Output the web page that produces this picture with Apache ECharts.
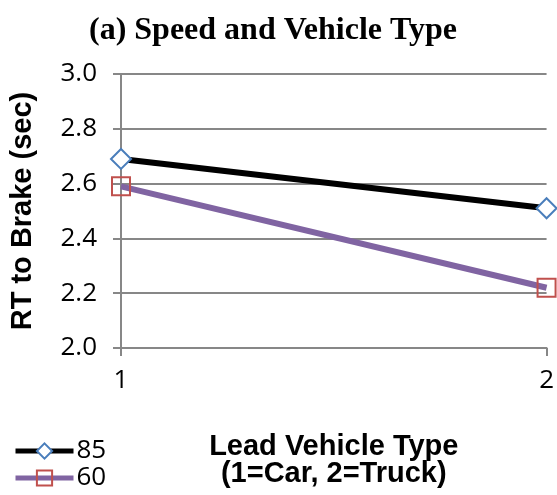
<!DOCTYPE html>
<html>
<head>
<meta charset="utf-8">
<script src="https://cdn.jsdelivr.net/npm/echarts@6/dist/echarts.min.js"></script>
<style>
  html, body { margin: 0; padding: 0; background: #fff; }
  #chart { width: 557px; height: 495px; }
</style>
</head>
<body>
<div id="chart"></div>
<script>
// Lead vehicle type categories (1 = Car, 2 = Truck)
const categories = ['1', '2'];
// Mean RT to brake (sec) by speed condition
const speed85 = [2.69, 2.51];
const speed60 = [2.59, 2.22];
const seriesNames = ['85', '60'];

const chart = echarts.init(document.getElementById('chart'));
const sans = '"Open Sans", "DejaVu Sans", sans-serif';
const boldSans = '"Liberation Sans", Arial, sans-serif';
const gray = '#878787';
const black = '#000';
const purple = '#8064a2';
const blue = '#4a7ebb';
const red = '#c0504d';

chart.setOption({
  animation: false,
  backgroundColor: '#fff',
  title: {
    text: '(a) Speed and Vehicle Type',
    left: 268,
    textAlign: 'center',
    top: 10,
    textStyle: {
      fontFamily: '"Liberation Serif", "DejaVu Serif", serif',
      fontWeight: 'bold',
      fontSize: 32,
      color: '#000'
    }
  },
  grid: { left: 120, right: 10, top: 74, bottom: 147, containLabel: false },
  legend: {
    orient: 'vertical',
    left: 8,
    top: 433,
    height: 70,
    itemGap: 1,
    itemWidth: 58,
    itemHeight: 19,
    textStyle: { fontFamily: sans, fontSize: 26, color: '#000', padding: [0, 0, 0, -2] },
    data: [
      {
        name: seriesNames[0],
        lineStyle: { color: black, width: 5 },
        itemStyle: { color: '#fff', borderColor: blue, borderWidth: 2 }
      },
      {
        name: seriesNames[1],
        lineStyle: { color: purple, width: 5 },
        itemStyle: { color: 'rgba(255,255,255,0)', borderColor: red, borderWidth: 2 }
      }
    ]
  },
  xAxis: {
    type: 'category',
    data: categories,
    boundaryGap: false,
    axisLine: { lineStyle: { color: gray, width: 2 } },
    axisTick: { show: true, length: 8, lineStyle: { color: gray, width: 2 } },
    axisLabel: { fontFamily: sans, fontSize: 26, color: '#000', margin: 20 },
    splitLine: { show: false },
    name: 'Lead Vehicle Type\n(1=Car, 2=Truck)',
    nameLocation: 'middle',
    nameGap: 85,
    nameTextStyle: {
      fontFamily: boldSans, fontSize: 29, fontWeight: 'bold', color: '#000',
      lineHeight: 27, align: 'center', verticalAlign: 'top'
    }
  },
  yAxis: {
    type: 'value',
    min: 2.0,
    max: 3.0,
    interval: 0.2,
    axisLine: { show: true, lineStyle: { color: gray, width: 2 } },
    axisTick: { show: true, length: 8, lineStyle: { color: gray, width: 2 } },
    axisLabel: {
      fontFamily: sans, fontSize: 26, color: '#000', margin: 24,
      formatter: v => v.toFixed(1)
    },
    splitLine: { show: true, lineStyle: { color: gray, width: 2 } },
    name: 'RT to Brake (sec)',
    nameLocation: 'middle',
    nameGap: 84,
    nameTextStyle: { fontFamily: boldSans, fontSize: 29, fontWeight: 'bold', color: '#000' }
  },
  series: [
    {
      name: seriesNames[0],
      type: 'line',
      data: speed85,
      lineStyle: { color: black, width: 6 },
      itemStyle: { color: '#fff', borderColor: blue, borderWidth: 2 },
      symbol: 'diamond',
      symbolSize: 20,
      z: 3
    },
    {
      name: seriesNames[1],
      type: 'line',
      data: speed60,
      lineStyle: { color: purple, width: 6 },
      itemStyle: { color: 'rgba(255,255,255,0)', borderColor: red, borderWidth: 2 },
      symbol: 'rect',
      symbolSize: 18,
      z: 2
    }
  ]
});
</script>
</body>
</html>
